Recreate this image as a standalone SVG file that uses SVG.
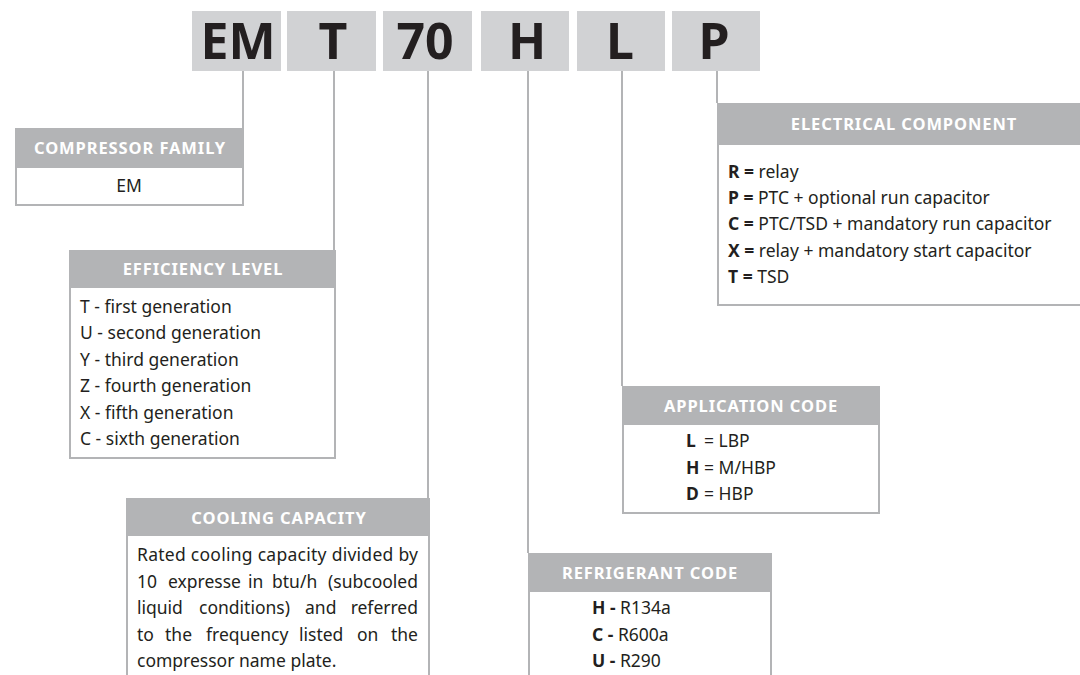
<svg xmlns="http://www.w3.org/2000/svg" width="1080" height="675" viewBox="0 0 1080 675">
<style>
.code{fill:#d1d2d4}
.codet{font-family:"Noto Sans","Open Sans",sans-serif;font-weight:bold;font-size:50px;fill:#231f20;text-anchor:middle}
.hdr{fill:#b3b4b6}
.body{fill:#ffffff;stroke:#b3b4b6;stroke-width:2}
.ht{font-family:"Noto Sans","Open Sans",sans-serif;font-weight:bold;font-size:16.5px;fill:#ffffff;text-anchor:middle;letter-spacing:0.9px}
.bt{font-family:"Noto Sans","Open Sans",sans-serif;font-size:17.5px;fill:#231f20}
.e{text-anchor:end}
.b{font-weight:bold}
.ln{stroke:#b3b4b6;stroke-width:2;fill:none}
</style>
<rect width="1080" height="675" fill="#ffffff"/>
<g id="connectors">
<line class="ln" x1="243" y1="71" x2="243" y2="128"/>
<line class="ln" x1="334" y1="71" x2="334" y2="250"/>
<line class="ln" x1="428" y1="71" x2="428" y2="498"/>
<line class="ln" x1="528" y1="71" x2="528" y2="553"/>
<line class="ln" x1="622" y1="71" x2="622" y2="386"/>
<line class="ln" x1="717" y1="71" x2="717" y2="103"/>
</g>
<g id="code-EM"><rect class="code" x="192" y="11" width="89" height="60"/><text class="codet" x="238" y="59">EM</text></g>
<g id="code-T"><rect class="code" x="287" y="11" width="89" height="60"/><text class="codet" x="333" y="59">T</text></g>
<g id="code-70"><rect class="code" x="383" y="11" width="89" height="60"/><text class="codet" x="425" y="59">70</text></g>
<g id="code-H"><rect class="code" x="481" y="11" width="88" height="60"/><text class="codet" x="527" y="59">H</text></g>
<g id="code-L"><rect class="code" x="577" y="11" width="88" height="60"/><text class="codet" x="620" y="59">L</text></g>
<g id="code-P"><rect class="code" x="672" y="11" width="88" height="60"/><text class="codet" x="714" y="59">P</text></g>

<g id="compressor-family">
<rect class="body" x="16" y="129" width="227" height="76"/>
<rect class="hdr" x="15" y="128" width="229" height="40"/>
<text class="ht" x="130" y="154">COMPRESSOR FAMILY</text>
<text class="bt" x="129" y="192" text-anchor="middle">EM</text>
</g>

<g id="efficiency-level">
<rect class="body" x="70" y="251" width="265" height="207"/>
<rect class="hdr" x="69" y="250" width="267" height="38"/>
<text class="ht" x="203" y="275">EFFICIENCY LEVEL</text>
<text class="bt" x="80" y="313">T - first generation</text>
<text class="bt" x="80" y="339">U - second generation</text>
<text class="bt" x="80" y="366">Y - third generation</text>
<text class="bt" x="80" y="392">Z - fourth generation</text>
<text class="bt" x="80" y="419">X - fifth generation</text>
<text class="bt" x="80" y="445">C - sixth generation</text>
</g>

<g id="cooling-capacity">
<rect class="body" x="127" y="499" width="302" height="190"/>
<rect class="hdr" x="126" y="498" width="304" height="38"/>
<text class="ht" x="279" y="524">COOLING CAPACITY</text>
<text class="bt" x="137" y="561" textLength="281" lengthAdjust="spacing">Rated cooling capacity divided by</text>
<text class="bt" y="588"><tspan x="137">10</tspan><tspan x="168">expresse</tspan><tspan x="248">in</tspan><tspan x="272">btu/h</tspan></text>
<text class="bt e" x="418" y="588">(subcooled</text>
<text class="bt" y="614"><tspan x="137">liquid</tspan><tspan x="199">conditions)</tspan><tspan x="305">and</tspan></text>
<text class="bt e" x="418" y="614">referred</text>
<text class="bt" y="641"><tspan x="137">to</tspan><tspan x="165">the</tspan><tspan x="206">frequency</tspan><tspan x="299">listed</tspan><tspan x="357">on</tspan></text>
<text class="bt e" x="418" y="641">the</text>
<text class="bt" x="137" y="667">compressor name plate.</text>
</g>

<g id="refrigerant-code">
<rect class="body" x="529" y="554" width="242" height="135"/>
<rect class="hdr" x="528" y="553" width="244" height="39"/>
<text class="ht" x="650" y="579">REFRIGERANT CODE</text>
<text class="bt" x="592" y="614"><tspan class="b">H - </tspan>R134a</text>
<text class="bt" x="592" y="641"><tspan class="b">C - </tspan>R600a</text>
<text class="bt" x="592" y="667"><tspan class="b">U - </tspan>R290</text>
</g>

<g id="application-code">
<rect class="body" x="623" y="387" width="256" height="126"/>
<rect class="hdr" x="622" y="386" width="258" height="39"/>
<text class="ht" x="751" y="412">APPLICATION CODE</text>
<text class="bt" x="686" y="447"><tspan class="b">L</tspan><tspan x="704">= LBP</tspan></text>
<text class="bt" x="686" y="474"><tspan class="b">H</tspan><tspan x="704">= M/HBP</tspan></text>
<text class="bt" x="686" y="500"><tspan class="b">D</tspan><tspan x="704">= HBP</tspan></text>
</g>

<g id="electrical-component">
<rect class="body" x="718" y="104" width="370" height="201"/>
<rect class="hdr" x="717" y="103" width="363" height="42"/>
<text class="ht" x="904" y="130">ELECTRICAL COMPONENT</text>
<text class="bt" x="728" y="178"><tspan class="b">R =</tspan> relay</text>
<text class="bt" x="728" y="204"><tspan class="b">P =</tspan> PTC + optional run capacitor</text>
<text class="bt" x="728" y="230"><tspan class="b">C =</tspan> PTC/TSD + mandatory run capacitor</text>
<text class="bt" x="728" y="257"><tspan class="b">X =</tspan> relay + mandatory start capacitor</text>
<text class="bt" x="728" y="283"><tspan class="b">T =</tspan> TSD</text>
</g>
</svg>
